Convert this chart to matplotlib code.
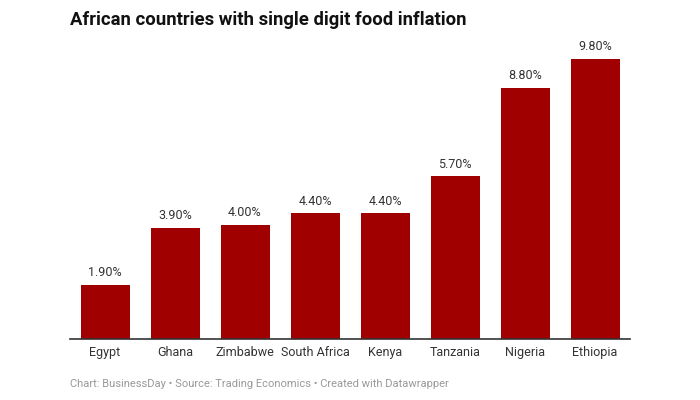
import matplotlib.pyplot as plt

plt.rcParams['font.family'] = ['Roboto', 'DejaVu Sans']

countries = ['Egypt', 'Ghana', 'Zimbabwe', 'South Africa', 'Kenya', 'Tanzania', 'Nigeria', 'Ethiopia']
inflation = [1.9, 3.9, 4.0, 4.4, 4.4, 5.7, 8.8, 9.8]

fig = plt.figure(figsize=(7, 4), dpi=100)
ax = fig.add_axes([70 / 700, 1 - 339 / 400, 560 / 700, 300 / 400])

x = range(len(countries))
bars = ax.bar(x, inflation, width=0.7, color='#a00000')

for xi, v in zip(x, inflation):
    ax.annotate(f'{v:.2f}%', (xi, v), xytext=(0, 4), textcoords='offset points',
                ha='center', va='bottom', fontsize=9, color='#333333')

ax.set_xlim(-0.5, len(countries) - 0.5)
ax.set_ylim(0, 10.5)
ax.set_xticks(list(x))
ax.set_xticklabels(countries, fontsize=9, color='#333333')
ax.tick_params(axis='x', length=0, pad=5)
ax.set_yticks([])
for side in ['top', 'right', 'left']:
    ax.spines[side].set_visible(False)
ax.spines['bottom'].set_color('#333333')
ax.spines['bottom'].set_linewidth(1.2)

fig.text(70 / 700, 1 - 20 / 400, 'African countries with single digit food inflation',
         fontsize=13.3, fontweight='bold', color='#111111', va='center', ha='left')
fig.text(70 / 700, 1 - 384 / 400,
         'Chart: BusinessDay \u2022 Source: Trading Economics \u2022 Created with Datawrapper',
         fontsize=8, color='#999999', va='center', ha='left')

fig.savefig('out.png', dpi=100)
